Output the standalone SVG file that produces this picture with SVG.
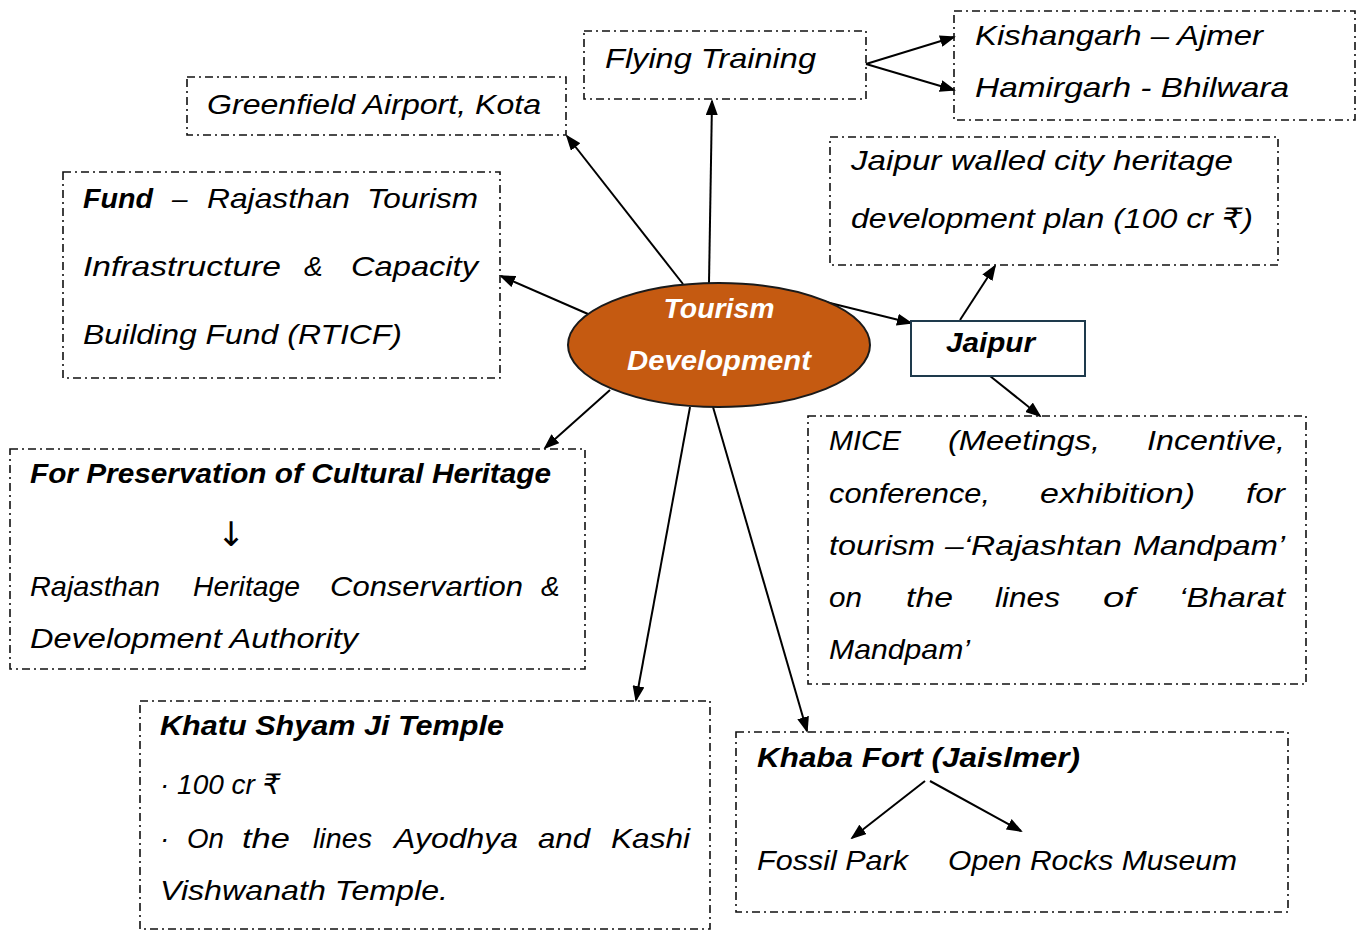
<svg xmlns="http://www.w3.org/2000/svg" width="1362" height="931" viewBox="0 0 1362 931">
<style>
.bx{fill:none;stroke:#111;stroke-width:1.6;stroke-dasharray:8 4 2 4}
.t{font-family:"Liberation Sans","DejaVu Sans",sans-serif;font-style:italic;font-size:28px;fill:#000}
.b{font-weight:bold}
.w{fill:#fff;font-weight:bold;text-anchor:middle}
.c{stroke:#000;stroke-width:2;fill:none;marker-end:url(#ah)}
</style>
<defs>
<marker id="ah" markerWidth="16" markerHeight="12" refX="14" refY="6" orient="auto" markerUnits="userSpaceOnUse">
<path d="M0,0 L16,6 L0,12 Z" fill="#000"/>
</marker>
</defs>
<rect width="1362" height="931" fill="#fff"/>

<g id="connectors">
<line class="c" x1="709" y1="283" x2="712" y2="101"/>
<line class="c" x1="683" y1="284" x2="567" y2="136"/>
<line class="c" x1="588" y1="314" x2="501" y2="276"/>
<path class="c" d="M765,287 L911,323"/>
<line class="c" x1="960" y1="320" x2="995" y2="266"/>
<line class="c" x1="990" y1="376" x2="1040" y2="416"/>
<line class="c" x1="610" y1="390" x2="545" y2="448"/>
<line class="c" x1="690" y1="407" x2="636" y2="700"/>
<line class="c" x1="713" y1="407" x2="807" y2="731"/>
<line class="c" x1="866" y1="64" x2="954" y2="37"/>
<line class="c" x1="866" y1="64" x2="954" y2="90"/>
<line class="c" x1="925" y1="781" x2="852" y2="838"/>
<line class="c" x1="930" y1="781" x2="1021" y2="831"/>
</g>

<g id="flying">
<rect class="bx" x="584" y="31" width="282" height="68"/>
<text class="t" x="605" y="68" textLength="211" lengthAdjust="spacingAndGlyphs">Flying Training</text>
</g>

<g id="kishangarh">
<rect class="bx" x="954" y="11" width="401" height="109"/>
<text class="t" x="975" y="45" textLength="288" lengthAdjust="spacingAndGlyphs">Kishangarh – Ajmer</text>
<text class="t" x="975" y="97" textLength="314" lengthAdjust="spacingAndGlyphs">Hamirgarh - Bhilwara</text>
</g>

<g id="greenfield">
<rect class="bx" x="187" y="77" width="379" height="58"/>
<text class="t" x="207" y="114" textLength="334" lengthAdjust="spacingAndGlyphs">Greenfield Airport, Kota</text>
</g>

<g id="walledcity">
<rect class="bx" x="830" y="137" width="448" height="128"/>
<text class="t" x="851" y="170" textLength="382" lengthAdjust="spacingAndGlyphs">Jaipur walled city heritage</text>
<text class="t" x="851" y="228" textLength="402" lengthAdjust="spacingAndGlyphs">development plan (100 cr ₹)</text>
</g>

<g id="fund">
<rect class="bx" x="63" y="172" width="437" height="206"/>
<text class="t b" x="83" y="208" textLength="70" lengthAdjust="spacingAndGlyphs">Fund</text>
<text class="t" x="172" y="208">–</text>
<text class="t" x="207" y="208" textLength="143" lengthAdjust="spacingAndGlyphs">Rajasthan</text>
<text class="t" x="367" y="208" textLength="111" lengthAdjust="spacingAndGlyphs">Tourism</text>
<text class="t" x="83" y="276" textLength="198" lengthAdjust="spacingAndGlyphs">Infrastructure</text>
<text class="t" x="304" y="276">&amp;</text>
<text class="t" x="351" y="276" textLength="127" lengthAdjust="spacingAndGlyphs">Capacity</text>
<text class="t" x="83" y="344" textLength="319" lengthAdjust="spacingAndGlyphs">Building Fund (RTICF)</text>
</g>

<g id="center">
<ellipse cx="719" cy="345" rx="151" ry="62" fill="#C55A11" stroke="#1a1a1a" stroke-width="2"/>
<text class="t w" x="719" y="318" textLength="111" lengthAdjust="spacingAndGlyphs">Tourism</text>
<text class="t w" x="719" y="370" textLength="184" lengthAdjust="spacingAndGlyphs">Development</text>
</g>

<g id="jaipur">
<rect x="911" y="321" width="174" height="55" fill="#fff" stroke="#1e3a4c" stroke-width="2"/>
<text class="t b" x="946" y="352" textLength="89" lengthAdjust="spacingAndGlyphs">Jaipur</text>
</g>

<g id="mice">
<rect class="bx" x="808" y="416" width="498" height="268"/>
<text class="t" x="829" y="450" textLength="72" lengthAdjust="spacingAndGlyphs">MICE</text>
<text class="t" x="948" y="450" textLength="152" lengthAdjust="spacingAndGlyphs">(Meetings,</text>
<text class="t" x="1147" y="450" textLength="138" lengthAdjust="spacingAndGlyphs">Incentive,</text>
<text class="t" x="829" y="503" textLength="161" lengthAdjust="spacingAndGlyphs">conference,</text>
<text class="t" x="1040" y="503" textLength="155" lengthAdjust="spacingAndGlyphs">exhibition)</text>
<text class="t" x="1246" y="503" textLength="39" lengthAdjust="spacingAndGlyphs">for</text>
<text class="t" x="829" y="555" textLength="106" lengthAdjust="spacingAndGlyphs">tourism</text>
<text class="t" x="945" y="555" textLength="177" lengthAdjust="spacingAndGlyphs">–‘Rajashtan</text>
<text class="t" x="1133" y="555" textLength="152" lengthAdjust="spacingAndGlyphs">Mandpam’</text>
<text class="t" x="829" y="607" textLength="33" lengthAdjust="spacingAndGlyphs">on</text>
<text class="t" x="906" y="607" textLength="47" lengthAdjust="spacingAndGlyphs">the</text>
<text class="t" x="995" y="607" textLength="65" lengthAdjust="spacingAndGlyphs">lines</text>
<text class="t" x="1103" y="607" textLength="32" lengthAdjust="spacingAndGlyphs">of</text>
<text class="t" x="1179" y="607" textLength="106" lengthAdjust="spacingAndGlyphs">‘Bharat</text>
<text class="t" x="829" y="659" textLength="141" lengthAdjust="spacingAndGlyphs">Mandpam’</text>
</g>

<g id="preservation">
<rect class="bx" x="10" y="449" width="575" height="220"/>
<text class="t b" x="30" y="483" textLength="521" lengthAdjust="spacingAndGlyphs">For Preservation of Cultural Heritage</text>
<text x="231" y="546" font-family="DejaVu Sans, sans-serif" font-size="34" fill="#000" text-anchor="middle">↓</text>
<text class="t" x="30" y="596" textLength="130" lengthAdjust="spacingAndGlyphs">Rajasthan</text>
<text class="t" x="193" y="596" textLength="107" lengthAdjust="spacingAndGlyphs">Heritage</text>
<text class="t" x="330" y="596" textLength="193" lengthAdjust="spacingAndGlyphs">Conservartion</text>
<text class="t" x="541" y="596">&amp;</text>
<text class="t" x="30" y="648" textLength="328" lengthAdjust="spacingAndGlyphs">Development Authority</text>
</g>

<g id="khatu">
<rect class="bx" x="140" y="701" width="570" height="228"/>
<text class="t b" x="160" y="735" textLength="344" lengthAdjust="spacingAndGlyphs">Khatu Shyam Ji Temple</text>
<text class="t" x="160" y="794">· 100 cr ₹</text>
<text class="t" x="160" y="848">·</text>
<text class="t" x="187" y="848" textLength="37" lengthAdjust="spacingAndGlyphs">On</text>
<text class="t" x="242" y="848" textLength="48" lengthAdjust="spacingAndGlyphs">the</text>
<text class="t" x="313" y="848" textLength="59" lengthAdjust="spacingAndGlyphs">lines</text>
<text class="t" x="394" y="848" textLength="124" lengthAdjust="spacingAndGlyphs">Ayodhya</text>
<text class="t" x="538" y="848" textLength="52" lengthAdjust="spacingAndGlyphs">and</text>
<text class="t" x="611" y="848" textLength="79" lengthAdjust="spacingAndGlyphs">Kashi</text>
<text class="t" x="160" y="900" textLength="288" lengthAdjust="spacingAndGlyphs">Vishwanath Temple.</text>
</g>

<g id="khaba">
<rect class="bx" x="736" y="732" width="552" height="180"/>
<text class="t b" x="757" y="767" textLength="323" lengthAdjust="spacingAndGlyphs">Khaba Fort (Jaislmer)</text>
<text class="t" x="757" y="870" textLength="151" lengthAdjust="spacingAndGlyphs">Fossil Park</text>
<text class="t" x="948" y="870" textLength="289" lengthAdjust="spacingAndGlyphs">Open Rocks Museum</text>
</g>
</svg>
